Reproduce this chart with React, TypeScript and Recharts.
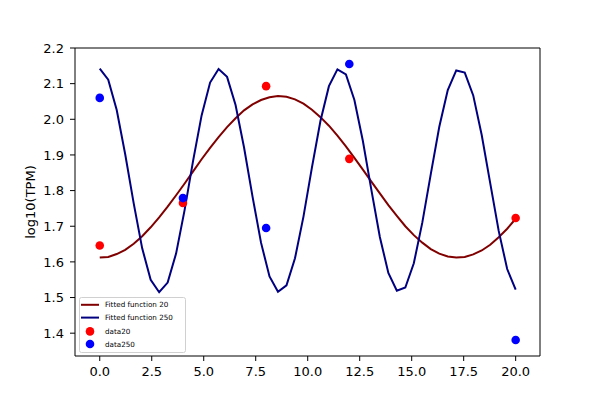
import { ComposedChart, Line, Scatter, XAxis, YAxis, Legend, ReferenceLine } from 'recharts';

// sample grid of the fitted curves (50 points from 0 to 20)
const fitX = [
  0, 0.408, 0.816, 1.224, 1.633, 2.041, 2.449, 2.857, 3.265, 3.673,
  4.082, 4.49, 4.898, 5.306, 5.714, 6.122, 6.531, 6.939, 7.347, 7.755,
  8.163, 8.571, 8.98, 9.388, 9.796, 10.204, 10.612, 11.02, 11.429, 11.837,
  12.245, 12.653, 13.061, 13.469, 13.878, 14.286, 14.694, 15.102, 15.51, 15.918,
  16.327, 16.735, 17.143, 17.551, 17.959, 18.367, 18.776, 19.184, 19.592, 20,
];
const fit20 = [
  1.612, 1.614, 1.622, 1.634, 1.651, 1.672, 1.697, 1.725, 1.755, 1.787,
  1.82, 1.854, 1.888, 1.92, 1.95, 1.978, 2.003, 2.025, 2.042, 2.054,
  2.062, 2.065, 2.063, 2.056, 2.044, 2.027, 2.006, 1.982, 1.954, 1.924,
  1.892, 1.859, 1.825, 1.792, 1.759, 1.729, 1.7, 1.675, 1.654, 1.636,
  1.623, 1.615, 1.612, 1.614, 1.621, 1.632, 1.648, 1.669, 1.693, 1.721,
];
const fit250 = [
  2.142, 2.111, 2.026, 1.902, 1.764, 1.638, 1.55, 1.515, 1.542, 1.624,
  1.746, 1.884, 2.011, 2.103, 2.141, 2.119, 2.04, 1.921, 1.783, 1.654,
  1.559, 1.516, 1.534, 1.61, 1.727, 1.865, 1.995, 2.093, 2.14, 2.126,
  2.054, 1.939, 1.802, 1.67, 1.569, 1.519, 1.528, 1.596, 1.71, 1.846,
  1.979, 2.082, 2.137, 2.131, 2.067, 1.956, 1.821, 1.687, 1.58, 1.522,
];
const sampleX = [0, 4, 8, 12, 20];
const data20 = [1.646, 1.765, 2.093, 1.889, 1.723];
const data250 = [2.06, 1.779, 1.695, 2.155, 1.381];
const xTicks = [0, 2.5, 5, 7.5, 10, 12.5, 15, 17.5, 20];
const yTicks = [1.4, 1.5, 1.6, 1.7, 1.8, 1.9, 2.0, 2.1, 2.2];
const xDomain = [-1.19, 21.17];
const yDomain = [1.336, 2.2];

const fitRows = fitX.map((x, i) => ({ x, f20: fit20[i], f250: fit250[i] }));
const points20 = sampleX.map((x, i) => ({ x, y: data20[i] }));
const points250 = sampleX.map((x, i) => ({ x, y: data250[i] }));

const FONT = '"DejaVu Sans", sans-serif';
const tickStyle = { fontSize: 13, fill: '#000', fontFamily: FONT };

const dot = (color: string) => (props: any) => (
  <circle cx={props.cx} cy={props.cy} r={4.3} fill={color} />
);

function LegendBox({ payload }: any) {
  const rows = payload || [];
  return (
    <svg width={107} height={56} style={{ display: 'block' }}>
      <rect x={0.5} y={0.5} width={106} height={55} rx={2} fill="rgba(255,255,255,0.8)" stroke="#d0d0d0" />
      {rows.map((entry: any, i: number) => {
        const cy = [7.8, 20.6, 34.4, 47][i] ?? 7.8 + i * 13;
        return (
          <g key={entry.value}>
            {entry.type === 'line' ? (
              <line x1={2} x2={20} y1={cy} y2={cy} stroke={entry.color} strokeWidth={2} />
            ) : (
              <circle cx={11} cy={cy} r={4.3} fill={entry.color} />
            )}
            <text x={26} y={cy} dy="0.35em" fontSize={7.2} fontFamily={FONT} fill="#000">{entry.value}</text>
          </g>
        );
      })}
    </svg>
  );
}

export default function App() {
  return (
    <div style={{ position: 'absolute', left: 0, top: 0, width: 600, height: 400, background: '#fff' }}>
      <ComposedChart width={600} height={400} data={fitRows} margin={{ top: 48, right: 60, bottom: 0, left: 0 }}>
        <XAxis
          dataKey="x" type="number" domain={xDomain} ticks={xTicks} allowDataOverflow
          tickFormatter={(v: number) => v.toFixed(1)} tick={tickStyle}
          tickSize={5} tickMargin={6} height={44}
          stroke="#000" tickLine={{ stroke: '#000' }} axisLine={{ stroke: '#000' }}
        />
        <YAxis
          type="number" domain={yDomain} ticks={yTicks} allowDataOverflow
          tickFormatter={(v: number) => v.toFixed(1)} tick={tickStyle}
          tickSize={5} tickMargin={6} width={75}
          stroke="#000" tickLine={{ stroke: '#000' }} axisLine={{ stroke: '#000' }}
          label={() => (
            <text x={31} y={202} transform="rotate(-90 31 202)" textAnchor="middle" dominantBaseline="middle"
              fontSize={13} fontFamily={FONT} fill="#000">log10(TPM)</text>
          )}
        />
        <ReferenceLine x={xDomain[1]} stroke="#000" ifOverflow="visible" />
        <ReferenceLine y={yDomain[1]} stroke="#000" ifOverflow="visible" />
        <Line name="Fitted function 20" dataKey="f20" stroke="#800000" strokeWidth={2} dot={false}
          legendType="line" isAnimationActive={false} />
        <Line name="Fitted function 250" dataKey="f250" stroke="#000080" strokeWidth={2} dot={false}
          legendType="line" isAnimationActive={false} />
        <Scatter name="data20" data={points20} dataKey="y" fill="#ff0000" shape={dot('#ff0000')}
          legendType="circle" isAnimationActive={false} />
        <Scatter name="data250" data={points250} dataKey="y" fill="#0000ff" shape={dot('#0000ff')}
          legendType="circle" isAnimationActive={false} />
        <Legend
          content={LegendBox} layout="horizontal" verticalAlign="middle" align="center"
          wrapperStyle={{ position: 'absolute', left: 79, top: 297, width: 107, height: 56, bottom: 'auto', right: 'auto' }}
        />
      </ComposedChart>
    </div>
  );
}
